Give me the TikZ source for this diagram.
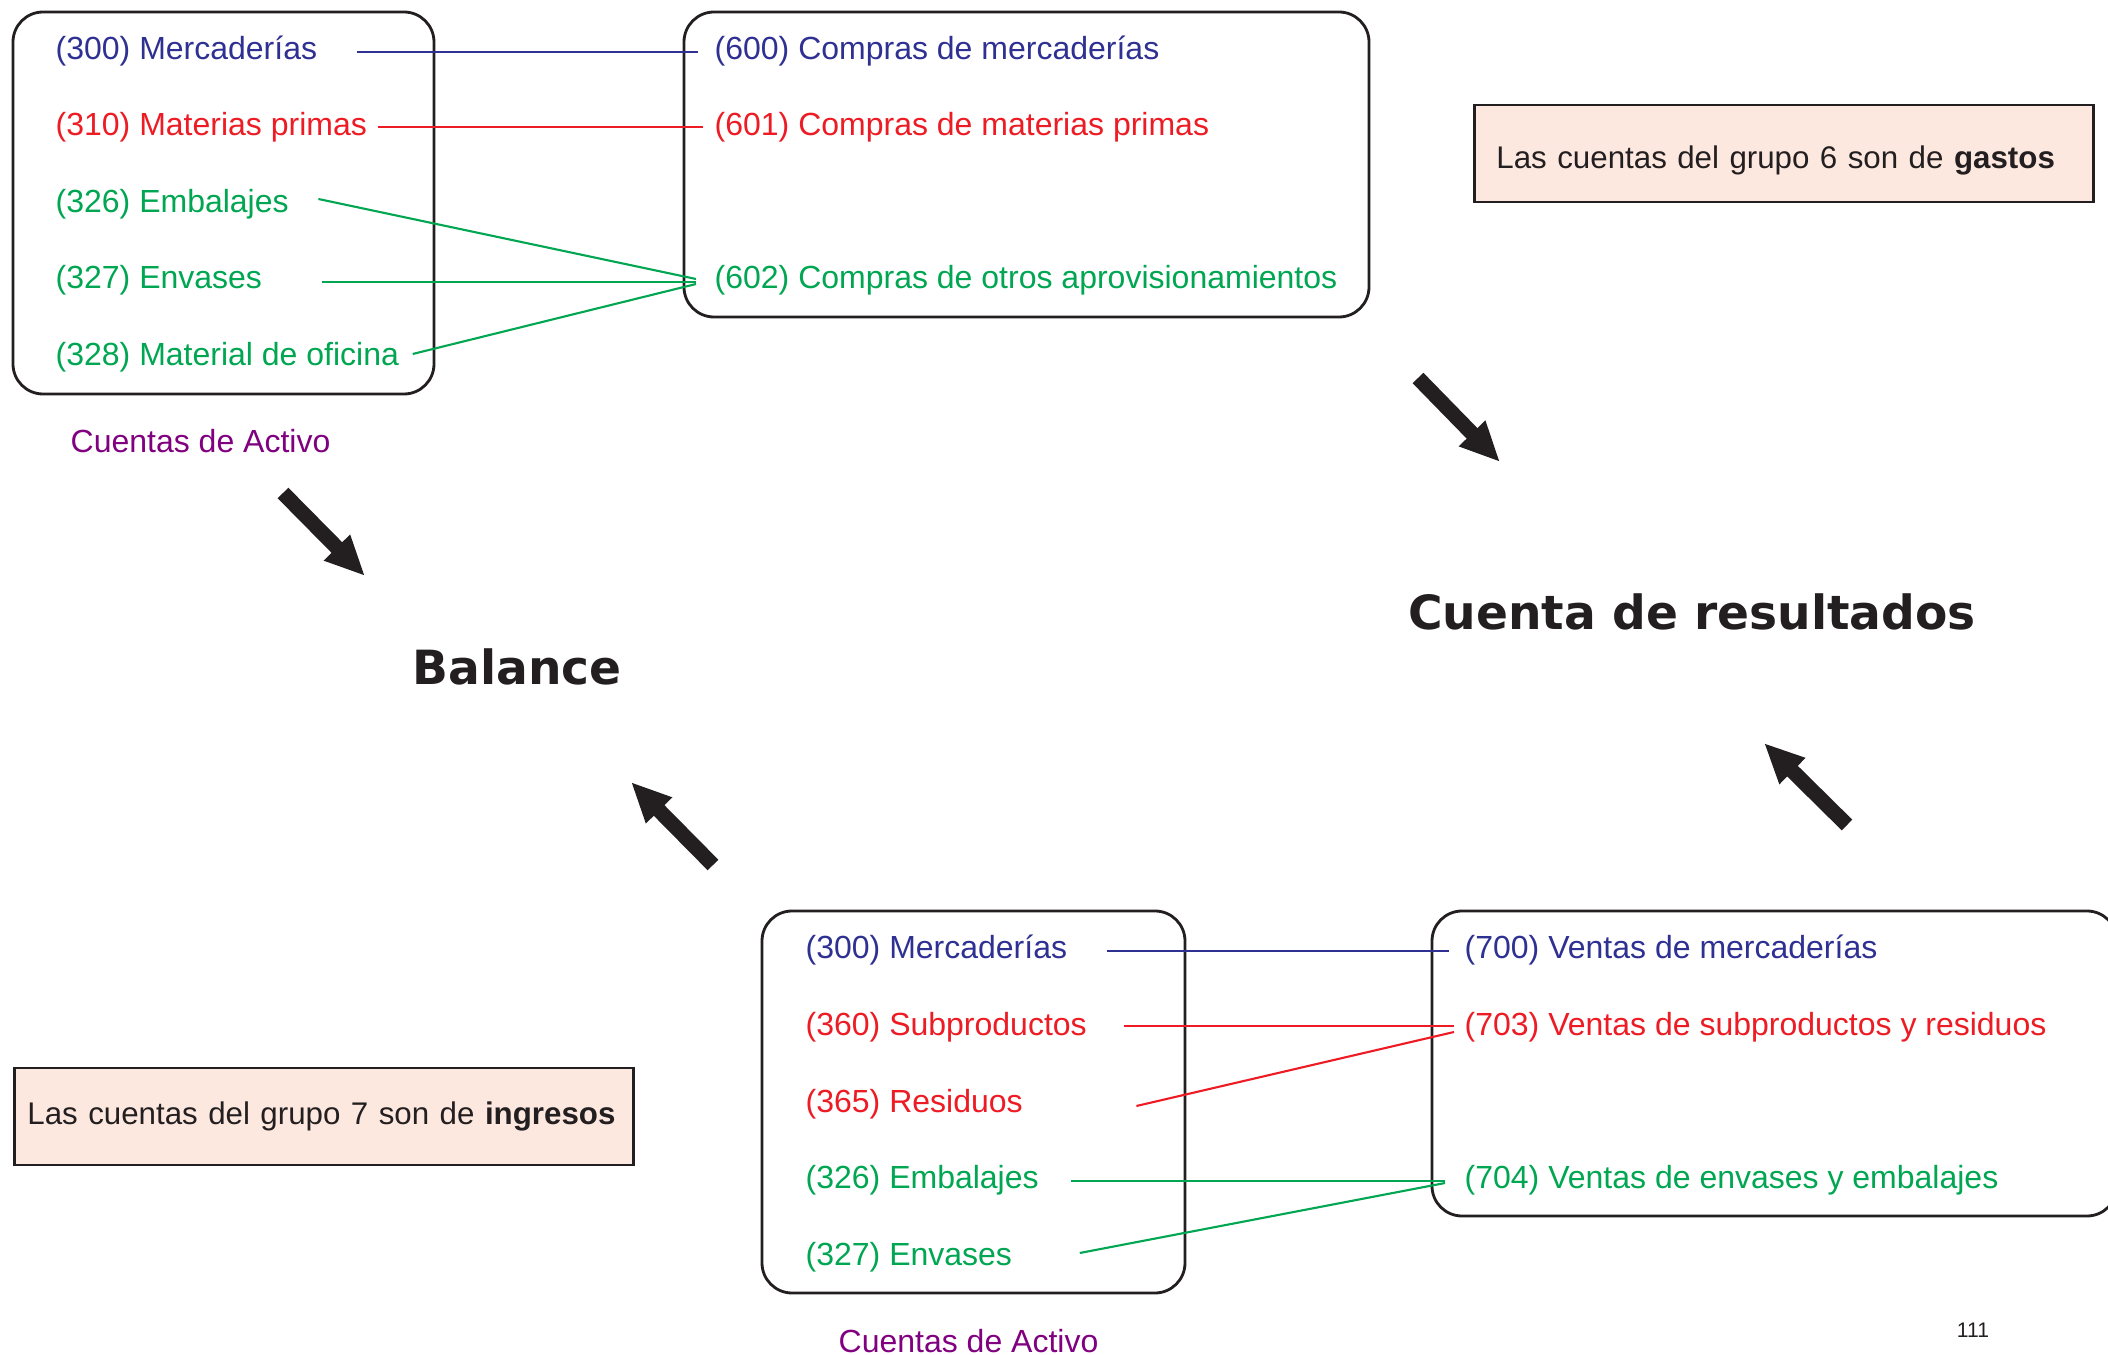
\documentclass[tikz,border=0pt]{standalone}
\usepackage{fontspec}
\setmainfont{Liberation Sans}
\newfontfamily\titulofont{DejaVu Sans}
\usepackage{tikz}
\usetikzlibrary{arrows.meta}
\definecolor{azulc}{RGB}{46,49,146}
\definecolor{rojoc}{RGB}{237,28,36}
\definecolor{verdec}{RGB}{0,166,81}
\definecolor{moradoc}{RGB}{128,0,128}
\definecolor{negroc}{RGB}{35,31,32}
\definecolor{rosac}{RGB}{253,232,224}
\tikzset{
  cuenta/.style = {anchor=west, inner sep=0pt, text height=6.8pt, text depth=2.3pt,
    font=\fontsize{9.1}{11}\selectfont},% cuenta contable
  grupo/.style = {anchor=west, inner sep=0pt, text=moradoc,
    font=\fontsize{9.1}{11}\selectfont},% rotulo del grupo
  caja/.style = {draw=negroc, line width=0.8pt, rounded corners=0.3cm},% caja redondeada
  nota/.style = {draw=negroc, fill=rosac, line width=0.8pt, anchor=west, align=left,
    minimum height=0.97cm, text=negroc, font=\fontsize{8.9}{11}\selectfont},% nota rosa
  titulo/.style = {text=negroc, font=\titulofont\bfseries\fontsize{13.4}{16}\selectfont},
  enlace/.style = {line width=0.6pt},
  flecha/.style = {negroc, line width=0.15cm, -{Triangle[length=0.4cm,width=0.34cm]}}
}

\begin{document}
\begin{tikzpicture}[x=0.01cm,y=-0.01cm]
  \path[use as bounding box] (0,0) rectangle (2108,1355);
  \clip (0,0) rectangle (2108,1355);

  % cajas
  \draw[caja] (13,12) rectangle (434,394);
  \draw[caja] (684,12) rectangle (1369,317);
  \draw[caja] (762,911) rectangle (1185,1293);
  \draw[caja] (1432,911) rectangle (2117,1216);

  % cuentas de activo (arriba)
  \node[cuenta, text=azulc] (a300) at (55,52) {(300) Mercaderías};
  \node[cuenta, text=rojoc] (a310) at (55,128) {(310) Materias primas};
  \node[cuenta, text=verdec] (a326) at (55,205) {(326) Embalajes};
  \node[cuenta, text=verdec] (a327) at (55,281) {(327) Envases};
  \node[cuenta, text=verdec] (a328) at (55,358) {(328) Material de oficina};
  \node[grupo] (activo1) at (70,441) {Cuentas de Activo};

  % compras
  \node[cuenta, text=azulc] (g600) at (714,52) {(600) Compras de mercaderías};
  \node[cuenta, text=rojoc] (g601) at (714,128) {(601) Compras de materias primas};
  \node[cuenta, text=verdec] (g602) at (714,281) {(602) Compras de otros aprovisionamientos};

  % cuentas de activo (abajo)
  \node[cuenta, text=azulc] (b300) at (805,951) {(300) Mercaderías};
  \node[cuenta, text=rojoc] (b360) at (805,1028) {(360) Subproductos};
  \node[cuenta, text=rojoc] (b365) at (805,1105) {(365) Residuos};
  \node[cuenta, text=verdec] (b326) at (805,1181) {(326) Embalajes};
  \node[cuenta, text=verdec] (b327) at (805,1258) {(327) Envases};
  \node[grupo] (activo2) at (838,1341) {Cuentas de Activo};

  % ventas
  \node[cuenta, text=azulc] (v700) at (1464,951) {(700) Ventas de mercaderías};
  \node[cuenta, text=rojoc] (v703) at (1464,1028) {(703) Ventas de subproductos y residuos};
  \node[cuenta, text=verdec] (v704) at (1464,1181) {(704) Ventas de envases y embalajes};

  \foreach \from/\sx/\sy/\to/\ex/\ey/\col in {
      a300/39/0/g600/-16/0/azulc, a310/10/-1/g601/-11/-1/rojoc,
      a326/29/-6/g602/-18/-2/verdec, a327/59/1/g602/-18/1/verdec,
      a328/13/-4/g602/-18/3/verdec,
      b300/39/0/v700/-15/0/azulc, b360/37/-2/v703/-10/-2/rojoc,
      b365/113/1/v703/-10/4/rojoc, b326/32/0/v704/-19/0/verdec,
      b327/67/-5/v704/-19/2/verdec}
    \draw[enlace, \col] ([shift={(\sx,\sy)}]\from.east) -- ([shift={(\ex,\ey)}]\to.west);

  % notas
  \node[nota, text width=5.75cm, inner xsep=0.22cm, text height=8.8pt, text depth=0.4pt]
    (gastos) at (1473,153.5) {\mbox{Las cuentas del grupo 6 son de \textbf{gastos}}};
  \node[nota, text width=5.93cm, inner xsep=0.13cm] (ingresos) at (13,1116.5)
    {\mbox{Las cuentas del grupo 7 son de \textbf{ingresos}}};

  % titulos
  \node[titulo] (balance) at (517,667) {Balance};
  \node[titulo] (resultados) at (1692,612) {Cuenta de resultados};
  \node[text=negroc, font=\fontsize{6}{7}\selectfont] (pagina) at (1973,1330) {111};

  % flechas
  \coordinate (f1a) at (283,493);  \coordinate (f1b) at (365,576);
  \coordinate (f2a) at (713,865);  \coordinate (f2b) at (631,782);
  \coordinate (f3a) at (1418,378); \coordinate (f3b) at (1500,462);
  \coordinate (f4a) at (1847,825); \coordinate (f4b) at (1764,743);
  \foreach \a/\b in {f1a/f1b, f2a/f2b, f3a/f3b, f4a/f4b}
    \draw[flecha] (\a) -- (\b);
\end{tikzpicture}
\end{document}
